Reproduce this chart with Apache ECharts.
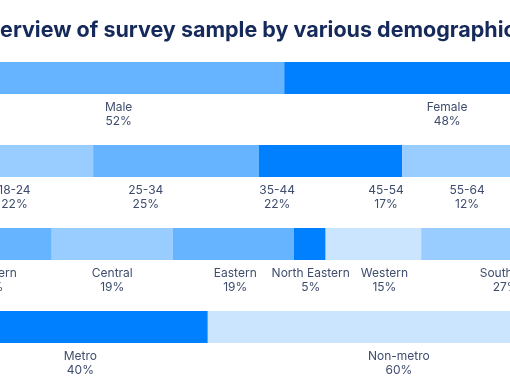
<!DOCTYPE html>
<html>
<head>
<meta charset="utf-8">
<script src="https://cdn.jsdelivr.net/npm/echarts@6/dist/echarts.min.js"></script>
<style>
  html, body { margin: 0; padding: 0; background: #ffffff; }
  #chart { width: 510px; height: 382px; }
</style>
</head>
<body>
<div id="chart"></div>
<script>
// ---- Data ----
const titleText = 'Overview of survey sample by various demographics';
const rowNames = ['Gender', 'Age', 'Region', 'Location'];

const genderCats = ['Male', 'Female'];
const genderVals = [52, 48];
const genderPct = ['52%', '48%'];

const ageCats = ['18-24', '25-34', '35-44', '45-54', '55-64'];
const ageVals = [22, 26, 22.5, 17, 12.5];       // bar lengths as drawn
const agePctVals = [22, 25, 22, 17, 12];        // printed shares (label placement)
const agePct = ['22%', '25%', '22%', '17%', '12%'];

const regionCats = ['Northern', 'Central', 'Eastern', 'North Eastern', 'Western', 'Southern'];
const regionVals = [15.5, 19, 19, 5, 15, 26.5];
const regionPct = ['15%', '19%', '19%', '5%', '15%', '27%'];

const metroCats = ['Metro', 'Non-metro'];
const metroVals = [40, 60];
const metroPct = ['40%', '60%'];

// ---- Styles ----
const C_DARK = '#0080ff', C_MED = '#66b3ff', C_LIGHT = '#99ccff', C_PALE = '#cce5ff';
const genderColors = [C_MED, C_DARK];
const ageColors = [C_LIGHT, C_MED, C_DARK, C_LIGHT, C_PALE];
const regionColors = [C_MED, C_LIGHT, C_MED, C_DARK, C_PALE, C_LIGHT];
const metroColors = [C_DARK, C_PALE];
// small horizontal nudges of some labels (px)
const genderLabelShift = [0, 10];
const regionLabelShift = [-11, 0, 2, 1, 11, 0];

const rows = [
  { cats: genderCats, vals: genderVals, pct: genderPct, colors: genderColors, shift: genderLabelShift, labelOnBar: true },
  { cats: ageCats, vals: ageVals, pct: agePct, colors: ageColors, shift: [], labelOnBar: false },
  { cats: regionCats, vals: regionVals, pct: regionPct, colors: regionColors, shift: regionLabelShift, labelOnBar: true },
  { cats: metroCats, vals: metroVals, pct: metroPct, colors: metroColors, shift: [], labelOnBar: true }
];

const labelStyle = {
  position: 'bottom',
  distance: 6,
  fontSize: 12,
  lineHeight: 14,
  color: '#3e4c6d',
  fontFamily: 'Inter, "Noto Sans", sans-serif',
  align: 'center'
};

const maxCols = Math.max(...rows.map(r => r.cats.length));
const series = [];
for (let j = 0; j < maxCols; j++) {
  series.push({
    type: 'bar',
    stack: 'bars',
    xAxisIndex: 0,
    yAxisIndex: 0,
    barWidth: 32,
    silent: true,
    data: rows.map(r => {
      if (j >= r.cats.length) return { value: 0, itemStyle: { opacity: 0 }, label: { show: false } };
      return {
        value: r.vals[j],
        itemStyle: { color: r.colors[j] },
        label: Object.assign({}, labelStyle, {
          show: r.labelOnBar,
          offset: [r.shift[j] || 0, 0],
          formatter: r.cats[j] + '\n' + r.pct[j]
        })
      };
    })
  });
}
// age labels placed on their own scale
for (let j = 0; j < ageCats.length; j++) {
  series.push({
    type: 'bar',
    stack: 'ageLabels',
    xAxisIndex: 1,
    yAxisIndex: 1,
    barWidth: 32,
    silent: true,
    itemStyle: { color: 'rgba(0,0,0,0)' },
    data: rowNames.map((n, i) => {
      if (i !== 1) return { value: 0, label: { show: false } };
      return {
        value: agePctVals[j],
        label: Object.assign({}, labelStyle, {
          show: true,
          formatter: ageCats[j] + '\n' + agePct[j]
        })
      };
    })
  });
}

const chart = echarts.init(document.getElementById('chart'), null, { renderer: 'canvas' });
chart.setOption({
  animation: false,
  backgroundColor: '#ffffff',
  title: {
    text: titleText,
    left: -34,
    top: 15,
    textStyle: {
      fontFamily: 'Inter, "Noto Sans", sans-serif',
      fontWeight: 'bold',
      fontSize: 21.5,
      color: '#15295a'
    }
  },
  grid: { left: -47, right: -80, top: 36.5, height: 332, containLabel: false, outerBoundsMode: 'none' },
  xAxis: [
    { type: 'value', min: 0, max: 100, show: false },
    { type: 'value', min: 0, max: 114, show: false }
  ],
  yAxis: [
    { type: 'category', data: rowNames, inverse: true, show: false },
    { type: 'category', data: rowNames, inverse: true, show: false }
  ],
  series: series
});
</script>
</body>
</html>
